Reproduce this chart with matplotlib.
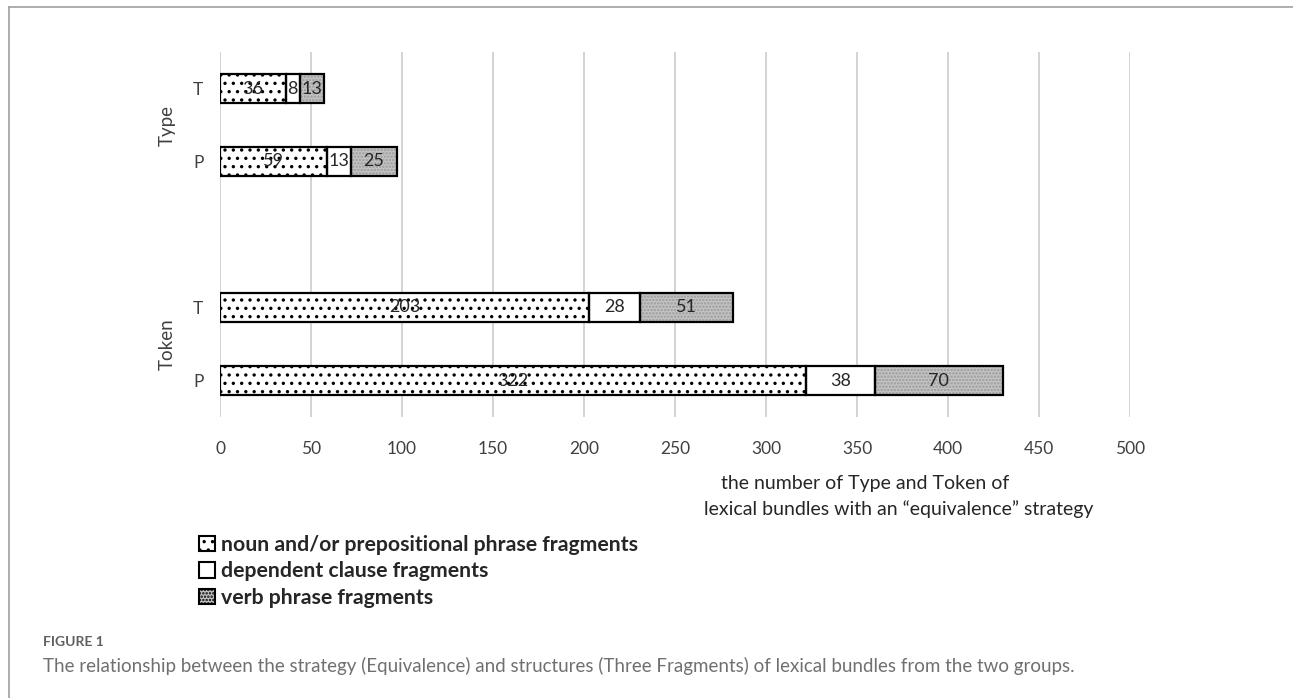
import matplotlib.pyplot as plt
from matplotlib.patches import Patch
from matplotlib.lines import Line2D

# data
groups = ['Token', 'Token', 'Type', 'Type']
bar_labels = ['P', 'T', 'P', 'T']
noun_prep = [322, 203, 59, 36]
dependent = [38, 28, 13, 8]
verb_phrase = [70, 51, 25, 13]
series_names = ['noun and/or prepositional phrase fragments',
                'dependent clause fragments',
                'verb phrase fragments']
xticks = [0, 50, 100, 150, 200, 250, 300, 350, 400, 450, 500]

# layout: gap between the two groups
ypos = [0, 1, 3, 4]

plt.rcParams['font.family'] = ['Lato', 'DejaVu Sans']

fig = plt.figure(figsize=(12.93, 6.98), dpi=100)
ax = fig.add_axes([220 / 1293, 1 - 417 / 698, 910 / 1293, 365 / 698])

h = 0.40
lefts = [0] * len(ypos)

def draw(vals, face, hatch, hcol):
    global lefts
    ax.barh(ypos, vals, height=h, left=lefts, color=face, hatch=hatch,
            edgecolor=hcol, linewidth=0, zorder=2)
    ax.barh(ypos, vals, height=h, left=lefts, fill=False,
            edgecolor='black', linewidth=1.6, zorder=3)
    for y, l, v in zip(ypos, lefts, vals):
        ax.text(l + v / 2, y, str(v), ha='center', va='center',
                fontsize=13, color='#262626', zorder=4)
    lefts = [l + v for l, v in zip(lefts, vals)]

plt.rcParams['hatch.linewidth'] = 1.2
draw(noun_prep, 'white', '..', 'black')
draw(dependent, 'white', '', 'white')
draw(verb_phrase, '#c4c4c4', '.....', '#9a9a9a')

ax.set_xlim(0, 500)
ax.set_ylim(-0.5, 4.5)
ax.set_xticks(xticks)
ax.xaxis.grid(True, color='#d0d0d0', linewidth=1.3, zorder=0)
ax.set_axisbelow(True)
for s in ax.spines.values():
    s.set_visible(False)
ax.tick_params(length=0, labelsize=12.5, colors='#404040', pad=17)
ax.tick_params(axis='y', pad=12)
ax.set_yticks(ypos)
ax.set_yticklabels(bar_labels)

# group labels
for g in ['Type', 'Token']:
    ys = [y for y, gg in zip(ypos, groups) if gg == g]
    ax.text(-29, sum(ys) / len(ys), g, rotation=90, ha='center', va='center',
            fontsize=13.5, color='#404040', transform=ax.transData,
            clip_on=False)

# axis title
fig.text(865 / 1293, 1 - 484 / 698, 'the number of Type and Token of',
         ha='center', va='center', fontsize=14, color='#262626')
fig.text(899 / 1293, 1 - 509 / 698,
         'lexical bundles with an \u201cequivalence\u201d strategy',
         ha='center', va='center', fontsize=14, color='#262626')

# legend
handles = [Patch(facecolor='white', edgecolor='black', hatch='..', linewidth=1.5),
           Patch(facecolor='white', edgecolor='black', linewidth=1.5),
           Patch(facecolor='#c4c4c4', edgecolor='black', hatch='.....', linewidth=1.5)]
leg = fig.legend(handles, series_names, loc='upper left',
                 bbox_to_anchor=(199 / 1293, 1 - 535 / 698), frameon=False,
                 handlelength=0.75, handleheight=0.75, handletextpad=0.3,
                 labelspacing=0.3, borderpad=0, borderaxespad=0,
                 prop={'weight': 'bold', 'size': 15.3})
for t in leg.get_texts():
    t.set_color('#262626')

# frame lines (top and left) and caption
fig.add_artist(Line2D([9 / 1293, 1], [1 - 7 / 698, 1 - 7 / 698],
                      color='#a0a0a0', linewidth=1.2))
fig.add_artist(Line2D([9 / 1293, 9 / 1293], [0, 1 - 7 / 698],
                      color='#a0a0a0', linewidth=1.2))
fig.text(43 / 1293, 1 - 642 / 698, 'FIGURE 1', ha='left', va='center',
         fontsize=10, color='#606060', weight='bold')
fig.text(43 / 1293, 1 - 666 / 698,
         'The relationship between the strategy (Equivalence) and structures '
         '(Three Fragments) of lexical bundles from the two groups.',
         ha='left', va='center', fontsize=13.5, color='#707070')

fig.savefig('out.png', dpi=100)
